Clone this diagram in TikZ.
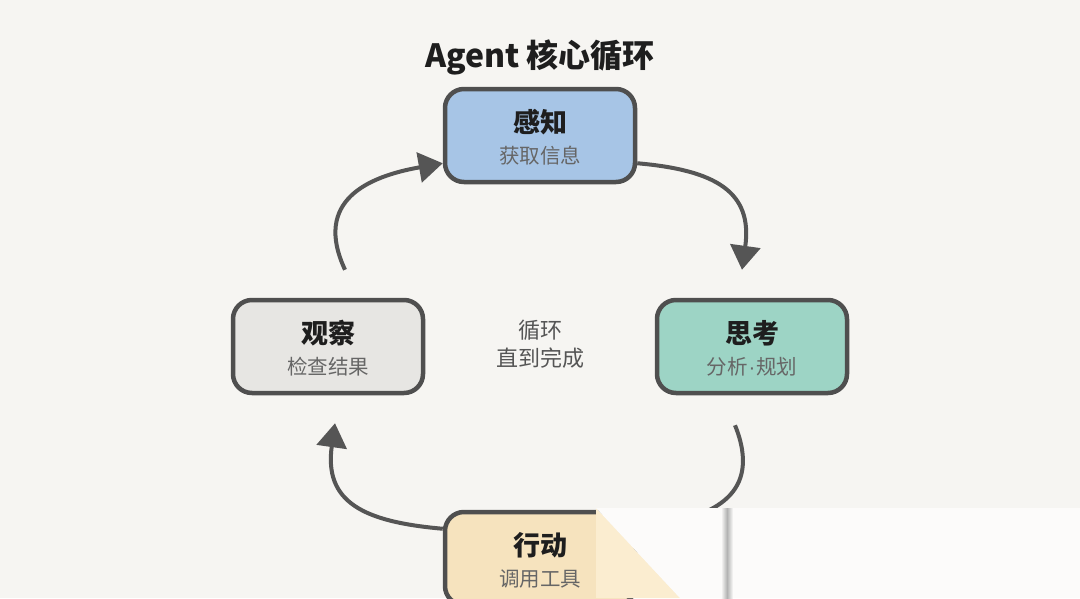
\documentclass[tikz,border=0pt]{standalone}
\usepackage{fontspec}
\setmainfont{Noto Sans CJK SC}
\newfontfamily\latf{Liberation Sans}
\usetikzlibrary{arrows.meta,calc}
\definecolor{bg}{HTML}{F6F5F2}
\definecolor{edge}{HTML}{4F4F4F}
\definecolor{arr}{HTML}{555555}
\definecolor{ink}{HTML}{1E1E1E}
\definecolor{subc}{HTML}{666666}
\definecolor{midc}{HTML}{555555}
\definecolor{cper}{HTML}{A7C5E6}
\definecolor{cthk}{HTML}{9DD4C5}
\definecolor{cobs}{HTML}{E7E6E3}
\definecolor{cact}{HTML}{F6E3BE}
\definecolor{ov}{HTML}{FCFBFA}
\definecolor{ovy}{HTML}{FBEDD0}
\begin{document}
\begin{tikzpicture}[x=1pt,y=1pt,
  box/.style={draw=edge,line width=4.5pt,rounded corners=19pt,minimum width=190pt,minimum height=93pt,inner sep=0pt},
  ttl/.style={font=\fontsize{27}{32}\selectfont\bfseries,text=ink,inner sep=0pt},
  sub/.style={font=\fontsize{20.5}{24}\selectfont,text=subc,inner sep=0pt},
  flow/.style={draw=arr,line width=4pt,-{Triangle[length=24pt,width=30pt]},looseness=1.35},
]
\useasboundingbox (0,0) rectangle (1080,-598);
\fill[bg] (0,0) rectangle (1080,-598);

\node[font=\fontsize{32}{38}\selectfont\bfseries,text=ink] (title) at (540,-57) {Agent 核心循环};

\node[box,fill=cper] (per) at (540,-135.5) {};
\node[box,fill=cthk] (thk) at (752,-346.5) {};
\node[box,fill=cobs] (obs) at (328,-346.5) {};
\node[box,fill=cact] (act) at (540,-558.5) {};

\node[ttl] (perT) at ($(per)+(0,13.5)$) {感知};
\node[sub] (perS) at ($(per)+(0,-20.5)$) {获取信息};
\node[ttl] (thkT) at ($(thk)+(0,13.5)$) {思考};
\node[sub] (thkS) at ($(thk)+(0,-20.5)$) {分析{\latf\kern1pt·\kern1pt}规划};
\node[ttl] (obsT) at ($(obs)+(0,13.5)$) {观察};
\node[sub] (obsS) at ($(obs)+(0,-20.5)$) {检查结果};
\node[ttl] (actT) at ($(act)+(0,13.5)$) {行动};
\node[sub] (actS) at ($(act)+(0,-20.5)$) {调用工具};

\node[font=\fontsize{22}{28}\selectfont,text=midc,align=center] (mid) at (540,-344) {循环\\直到完成};

\draw[flow] ($(obs.north)+(17,28)$) to[out=115,in=190] ($(per.south west)+(0,21)$);
\draw[flow] ($(per.south east)+(0,21)$) to[out=-5,in=82] ($(thk.north)+(-10,28)$);
\draw[flow] ($(thk.south)+(-17,-30)$) to[out=-68,in=10] ($(act.north east)+(0,-19)$);
\draw[flow] ($(act.north west)+(0,-19)$) to[out=175,in=-98] ($(obs.south)+(7,-28)$);

% overlay artefact at the bottom right
\fill[ovy] (596,-508) -- (680,-598) -- (596,-598) -- cycle;
\fill[ov] (596,-508) -- (1080,-508) -- (1080,-598) -- (680,-598) -- cycle;
\shade[left color=ov,right color=ov,middle color=gray!60] (721,-508) rectangle (733,-598);
\end{tikzpicture}
\end{document}
